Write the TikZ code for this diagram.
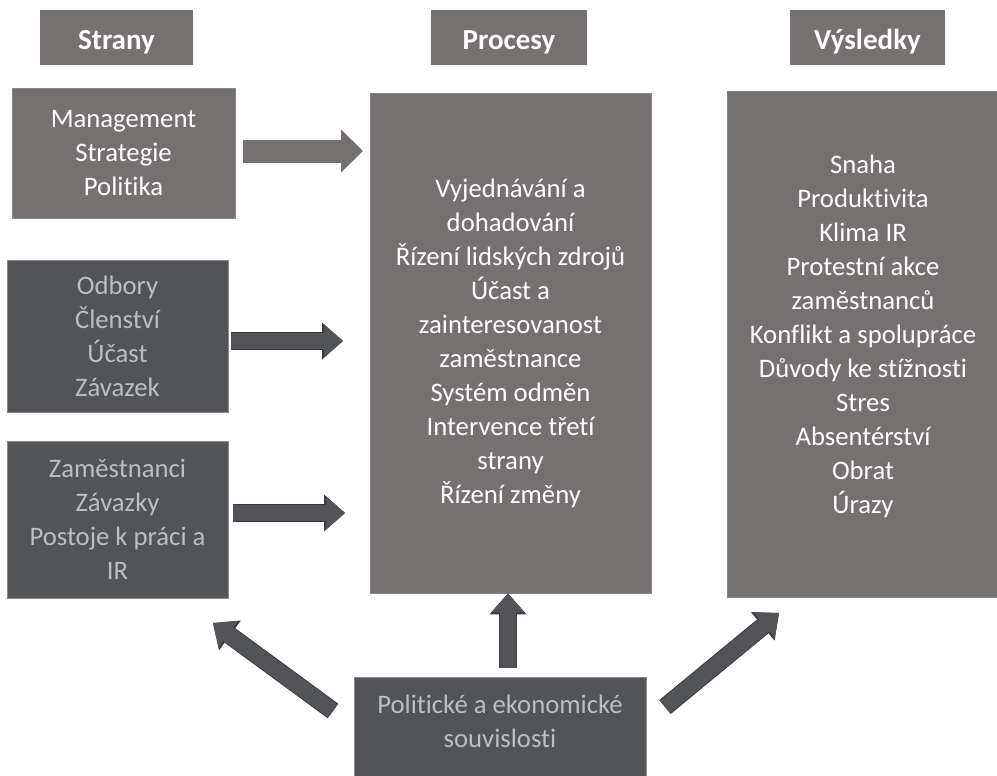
\documentclass[tikz,border=0pt]{standalone}
\usepackage{fontspec}
\setmainfont{Carlito}[Ligatures={NoCommon}]
\usetikzlibrary{arrows.meta}
\definecolor{boxgray}{HTML}{767171}
\definecolor{boxdark}{HTML}{535458}
\definecolor{darktext}{HTML}{BCBEC1}
\definecolor{darkedge}{HTML}{8A8B8E}
\definecolor{arrowedge}{HTML}{3A3B3E}
\tikzset{
  txt/.style={font=\fontsize{26.7}{34}\selectfont, align=center, inner sep=0pt},
  head/.style={rectangle, fill=boxgray, text=white, font=\fontsize{29}{34}\selectfont\bfseries,
    inner sep=0pt, text height=25pt, text depth=0pt},
  lightbox/.style={rectangle, txt, fill=boxgray, draw=boxgray!85!white, line width=0.8pt, text=white},
  darkbox/.style={rectangle, txt, fill=boxdark, draw=darkedge, line width=0.8pt, text=darktext},
  lightarrow/.style={draw=boxgray, line width=23pt, -{Triangle[width=43pt,length=22pt,line width=0pt]}},
  darkarrow/.style={draw=boxdark, line width=16pt, -{Triangle[width=33pt,length=19pt,line width=0pt]},
    preaction={draw=arrowedge, line width=18pt, -{Triangle[width=37pt,length=21pt,line width=0pt]}}}
}
\begin{document}
\begin{tikzpicture}[x=1pt,y=-1pt]
\useasboundingbox (0,0) rectangle (997,776);
\node[head, minimum width=153pt, minimum height=55pt] (hstrany) at (116.5,37.5) {Strany};
\node[head, minimum width=156pt, minimum height=55pt] (hprocesy) at (509,37.5) {Procesy};
\node[head, minimum width=155pt, minimum height=55pt] (hvysledky) at (867.5,37.5) {Výsledky};
\node[lightbox, minimum width=223pt, minimum height=130pt] (mgmt) at (123.5,153) {Management\\Strategie\\Politika};
\node[darkbox, minimum width=221pt, minimum height=152pt] (odbory) at (117.5,336) {Odbory\\Členství\\Účast\\Závazek};
\node[darkbox, minimum width=221pt, minimum height=157pt] (zam) at (117.5,519.5) {Zaměstnanci\\Závazky\\Postoje k práci a\\IR};
\node[lightbox, minimum width=281pt, minimum height=500pt] (procesy) at (510.5,343) {Vyjednávání a\\dohadování\\Řízení lidských zdrojů\\Účast a\\zainteresovanost\\zaměstnance\\Systém odměn\\Intervence třetí\\strany\\Řízení změny};
\node[lightbox, minimum width=272pt, minimum height=506pt] (vysledky) at (863,344) {Snaha\\Produktivita\\Klima IR\\Protestní akce\\zaměstnanců\\Konflikt a spolupráce\\Důvody ke stížnosti\\Stres\\Absentérství\\Obrat\\Úrazy\\[-14pt]};
\node[darkbox, minimum width=292pt, minimum height=110pt] (kontext) at (500,732) {Politické a ekonomické\\souvislosti\\[-12pt]};
\coordinate (a1s) at (243,151);
\coordinate (a1e) at (363,151);
\coordinate (a2s) at (231,341);
\coordinate (a2e) at (343,341);
\coordinate (a3s) at (233,513);
\coordinate (a3e) at (345,513);
\coordinate (a4s) at (508,668);
\coordinate (a5s) at (333,711);
\coordinate (a5e) at (213,623);
\coordinate (a6s) at (665,707);
\coordinate (a6e) at (779,613);
\draw[lightarrow] (a1s) -- (a1e);
\draw[darkarrow] (a2s) -- (a2e);
\draw[darkarrow] (a3s) -- (a3e);
\draw[darkarrow] (a4s) -- (a4s |- procesy.south);
\draw[darkarrow] (a5s) -- (a5e);
\draw[darkarrow] (a6s) -- (a6e);
\end{tikzpicture}
\end{document}
